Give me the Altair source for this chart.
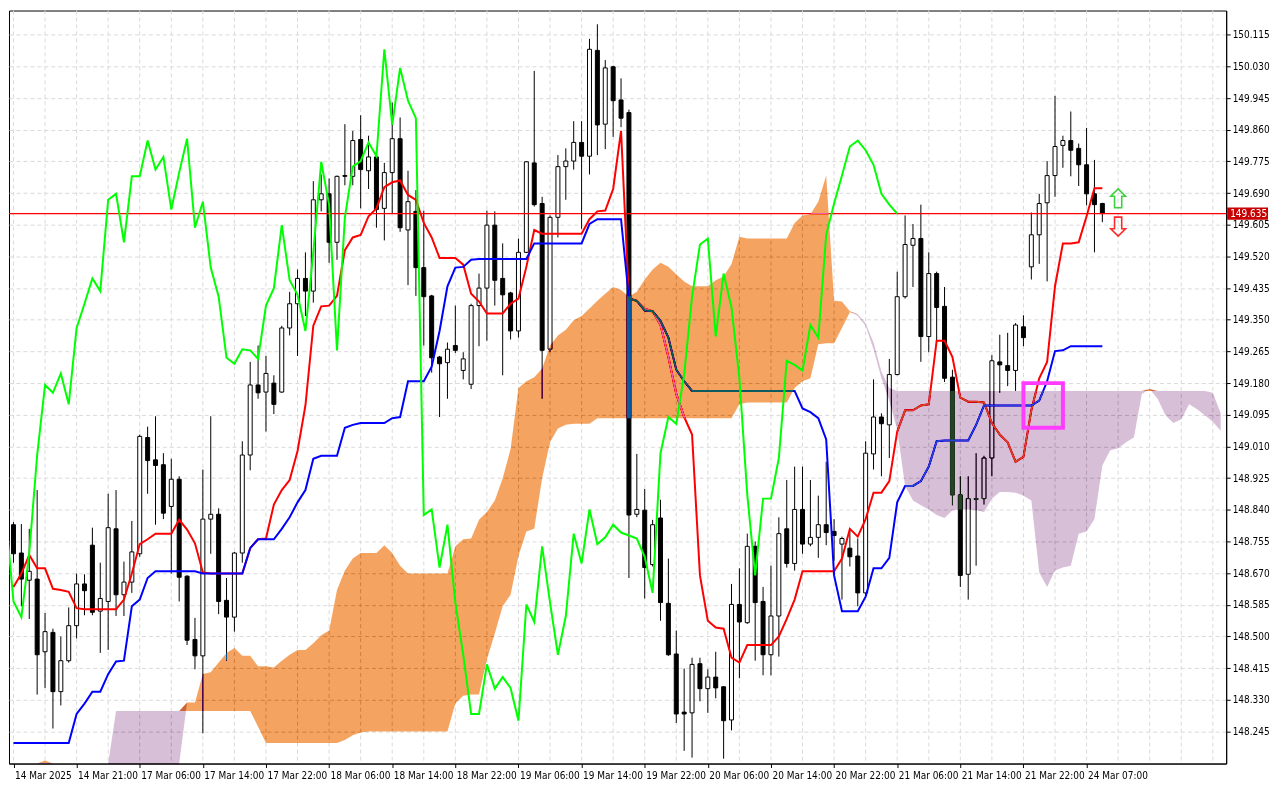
import altair as alt
import pandas as pd

FONT = "Tahoma, 'DejaVu Sans Condensed', 'Liberation Sans', sans-serif"
W, H = 1222, 756

time_labels = ["14 Mar 2025", "14 Mar 21:00", "17 Mar 06:00", "17 Mar 14:00", "17 Mar 22:00",
               "18 Mar 06:00", "18 Mar 14:00", "18 Mar 22:00", "19 Mar 06:00", "19 Mar 14:00",
               "19 Mar 22:00", "20 Mar 06:00", "20 Mar 14:00", "20 Mar 22:00", "21 Mar 06:00",
               "21 Mar 14:00", "21 Mar 22:00", "24 Mar 07:00"]
label_bars = [0, 8, 16, 24, 32, 40, 48, 56, 64, 72, 80, 88, 96, 104, 112, 120, 128, 136]
grid_bars = [0, 4, 8, 12, 16, 20, 24, 28, 32, 36, 40, 44, 48, 52, 56, 60, 64, 68, 72, 76,
             80, 84, 88, 92, 96, 100, 104, 108, 112, 116, 120, 124, 128, 132, 136, 140, 144,
             148, 152]
price_ticks = [148.245, 148.330, 148.415, 148.500, 148.585, 148.670, 148.755, 148.840,
               148.925, 149.010, 149.095, 149.180, 149.265, 149.350, 149.435, 149.520,
               149.605, 149.690, 149.775, 149.860, 149.945, 150.030, 150.115]
last_price = 149.635

open_ = [148.800, 148.724, 148.651, 148.654, 148.459, 148.511, 148.352, 148.435, 148.529, 148.641,
         148.745, 148.568, 148.594, 148.789, 148.612, 148.646, 148.722, 149.034, 148.974, 148.961,
         148.849, 148.922, 148.662, 148.492, 148.448, 148.815, 148.828, 148.597, 148.552, 148.724,
         148.987, 149.175, 149.156, 149.180, 149.156, 149.328, 149.393, 149.461, 149.427, 149.672,
         149.688, 149.558, 149.737, 149.735, 149.834, 149.750, 149.787, 149.649, 149.745, 149.836,
         149.591, 149.641, 149.490, 149.414, 149.250, 149.235, 149.281, 149.214, 149.177, 149.388,
         149.435, 149.604, 149.461, 149.422, 149.320, 149.531, 149.771, 149.662, 149.271, 149.625,
         149.761, 149.776, 149.826, 149.789, 150.073, 149.875, 150.029, 149.940, 149.906, 148.828,
         148.839, 148.693, 148.818, 148.589, 148.453, 148.297, 148.295, 148.427, 148.360, 148.391,
         148.365, 148.276, 148.586, 148.537, 148.742, 148.594, 148.451, 148.555, 148.789, 148.696,
         148.841, 148.748, 148.766, 148.800, 148.782, 148.748, 148.737, 148.716, 148.617, 148.990,
         149.089, 149.068, 149.203, 149.412, 149.550, 149.568, 149.305, 149.474, 149.386, 149.196,
         148.880, 148.667, 148.868, 148.870, 148.979, 149.237, 149.227, 149.214, 149.331, 149.492,
         149.578, 149.664, 149.737, 149.818, 149.831, 149.810, 149.766, 149.688, 149.662]
high = [148.807, 148.802, 148.789, 148.893, 148.563, 148.521, 148.500, 148.578, 148.669, 148.667,
        148.792, 148.698, 148.883, 148.893, 148.701, 148.810, 149.042, 149.063, 149.091, 148.992,
        148.977, 148.930, 148.664, 148.550, 148.948, 149.091, 148.844, 148.657, 148.727, 149.024,
        149.237, 149.281, 149.253, 149.201, 149.334, 149.425, 149.485, 149.531, 149.722, 149.740,
        149.729, 149.737, 149.875, 149.857, 149.899, 149.844, 149.797, 149.771, 149.933, 149.893,
        149.750, 149.698, 149.643, 149.417, 149.253, 149.289, 149.388, 149.263, 149.393, 149.474,
        149.643, 149.641, 149.555, 149.425, 149.568, 149.776, 150.018, 149.680, 149.630, 149.792,
        149.810, 149.883, 149.883, 150.104, 150.143, 150.047, 150.032, 149.998, 149.914, 148.990,
        148.896, 148.813, 148.867, 148.709, 148.516, 148.414, 148.443, 148.443, 148.412, 148.459,
        148.367, 148.641, 148.683, 148.776, 148.755, 148.633, 148.690, 148.820, 148.920, 148.956,
        148.956, 148.920, 148.878, 148.969, 148.815, 148.768, 148.789, 148.763, 149.024, 149.190,
        149.099, 149.245, 149.479, 149.630, 149.607, 149.659, 149.531, 149.479, 149.438, 149.216,
        148.930, 148.930, 148.992, 148.985, 149.255, 149.310, 149.315, 149.341, 149.362, 149.638,
        149.688, 149.776, 149.951, 149.844, 149.909, 149.823, 149.865, 149.779, 149.664]
low = [148.698, 148.581, 148.547, 148.344, 148.362, 148.253, 148.315, 148.430, 148.495, 148.557,
       148.557, 148.456, 148.464, 148.555, 148.555, 148.617, 148.714, 148.883, 148.800, 148.815,
       148.669, 148.594, 148.477, 148.412, 148.240, 148.722, 148.560, 148.435, 148.513, 148.698,
       148.946, 149.138, 149.050, 149.097, 149.154, 149.308, 149.253, 149.360, 149.396, 149.641,
       149.503, 149.511, 149.711, 149.711, 149.649, 149.701, 149.597, 149.563, 149.636, 149.586,
       149.443, 149.414, 149.281, 149.208, 149.089, 149.138, 149.261, 149.190, 149.164, 149.279,
       149.294, 149.388, 149.201, 149.297, 149.302, 149.529, 149.654, 149.138, 149.263, 149.571,
       149.672, 149.753, 149.594, 149.740, 149.792, 149.808, 149.841, 149.867, 148.657, 148.820,
       148.602, 148.688, 148.542, 148.448, 148.268, 148.193, 148.175, 148.326, 148.295, 148.334,
       148.172, 148.248, 148.388, 148.534, 148.435, 148.396, 148.396, 148.446, 148.685, 148.677,
       148.722, 148.742, 148.711, 148.745, 148.703, 148.599, 148.688, 148.581, 148.610, 148.948,
       148.930, 148.979, 149.201, 149.407, 149.438, 149.237, 149.263, 149.289, 149.183, 148.852,
       148.633, 148.599, 148.690, 148.854, 148.930, 149.154, 149.172, 149.159, 149.279, 149.458,
       149.500, 149.453, 149.680, 149.758, 149.735, 149.709, 149.657, 149.531, 149.612]
close = [148.722, 148.654, 148.675, 148.451, 148.513, 148.352, 148.435, 148.529, 148.641, 148.623,
         148.565, 148.602, 148.792, 148.612, 148.646, 148.727, 149.037, 148.972, 148.959, 148.831,
         148.922, 148.659, 148.490, 148.448, 148.815, 148.828, 148.594, 148.552, 148.724, 148.987,
         149.175, 149.154, 149.206, 149.123, 149.328, 149.393, 149.461, 149.427, 149.672, 149.688,
         149.558, 149.735, 149.735, 149.831, 149.753, 149.787, 149.646, 149.745, 149.836, 149.597,
         149.667, 149.490, 149.412, 149.248, 149.232, 149.271, 149.268, 149.245, 149.388, 149.435,
         149.604, 149.456, 149.417, 149.320, 149.531, 149.774, 149.659, 149.268, 149.625, 149.761,
         149.776, 149.826, 149.789, 150.076, 149.873, 150.026, 149.938, 149.891, 148.826, 148.841,
         148.685, 148.800, 148.591, 148.451, 148.292, 148.292, 148.425, 148.360, 148.391, 148.362,
         148.274, 148.586, 148.539, 148.742, 148.591, 148.451, 148.555, 148.776, 148.696, 148.841,
         148.748, 148.766, 148.800, 148.779, 148.771, 148.763, 148.714, 148.617, 148.992, 149.089,
         149.071, 149.203, 149.412, 149.552, 149.568, 149.305, 149.474, 149.383, 149.193, 148.880,
         148.664, 148.870, 148.870, 148.979, 149.240, 149.229, 149.214, 149.336, 149.302, 149.578,
         149.662, 149.737, 149.815, 149.831, 149.805, 149.766, 149.688, 149.659, 149.635]

tenkan = [148.633, 148.669, 148.719, 148.683, 148.683, 148.628, 148.625, 148.620, 148.576, 148.573,
          148.573, 148.573, 148.573, 148.573, 148.599, 148.669, 148.748, 148.761, 148.776, 148.776,
          148.776, 148.813, 148.787, 148.750, 148.672, 148.669, 148.669, 148.669, 148.669, 148.669,
          148.737, 148.761, 148.763, 148.854, 148.893, 148.920, 148.998, 149.120, 149.334, 149.386,
          149.388, 149.414, 149.537, 149.571, 149.578, 149.628, 149.649, 149.706, 149.719, 149.724,
          149.685, 149.672, 149.610, 149.571, 149.516, 149.516, 149.516, 149.498, 149.420, 149.399,
          149.367, 149.367, 149.367, 149.393, 149.407, 149.492, 149.591, 149.581, 149.581, 149.581,
          149.581, 149.581, 149.581, 149.620, 149.641, 149.643, 149.701, 149.857, 149.407, 149.401,
          149.380, 149.373, 149.336, 149.250, 149.151, 149.089, 149.042, 148.664, 148.542, 148.524,
          148.521, 148.443, 148.430, 148.477, 148.477, 148.477, 148.477, 148.500, 148.547, 148.599,
          148.675, 148.675, 148.675, 148.675, 148.675, 148.709, 148.789, 148.768, 148.815, 148.886,
          148.886, 148.917, 149.050, 149.107, 149.107, 149.120, 149.123, 149.294, 149.294, 149.250,
          149.141, 149.130, 149.130, 149.128, 149.073, 149.042, 149.021, 148.969, 148.982, 149.107,
          149.193, 149.237, 149.440, 149.555, 149.555, 149.558, 149.628, 149.703, 149.703]
kijun = [148.214, 148.214, 148.214, 148.214, 148.214, 148.214, 148.214, 148.214, 148.292, 148.320,
         148.352, 148.352, 148.399, 148.433, 148.435, 148.581, 148.599, 148.657, 148.675, 148.675,
         148.675, 148.675, 148.675, 148.675, 148.669, 148.669, 148.669, 148.669, 148.669, 148.669,
         148.737, 148.761, 148.761, 148.761, 148.789, 148.820, 148.860, 148.893, 148.977, 148.985,
         148.985, 148.985, 149.060, 149.068, 149.073, 149.073, 149.073, 149.073, 149.086, 149.089,
         149.185, 149.185, 149.185, 149.224, 149.320, 149.440, 149.490, 149.492, 149.511, 149.513,
         149.513, 149.513, 149.513, 149.513, 149.513, 149.513, 149.555, 149.555, 149.555, 149.555,
         149.555, 149.555, 149.555, 149.607, 149.620, 149.620, 149.620, 149.620, 149.407, 149.401,
         149.375, 149.373, 149.347, 149.302, 149.216, 149.185, 149.159, 149.159, 149.159, 149.159,
         149.159, 149.159, 149.159, 149.159, 149.159, 149.159, 149.159, 149.159, 149.159, 149.159,
         149.112, 149.102, 149.086, 149.029, 148.664, 148.568, 148.568, 148.568, 148.607, 148.683,
         148.683, 148.711, 148.860, 148.904, 148.904, 148.917, 148.956, 149.024, 149.026, 149.026,
         149.026, 149.026, 149.068, 149.120, 149.120, 149.120, 149.120, 149.120, 149.120, 149.120,
         149.133, 149.185, 149.266, 149.268, 149.279, 149.279, 149.279, 149.279, 149.279]
span_a = [148.130, 148.130, 148.130, 148.130, 148.167, 148.130, 148.130, 148.130, 148.130, 148.130,
          148.130, 148.130, 148.130, 148.130, 148.130, 148.130, 148.130, 148.130, 148.130, 148.130,
          148.130, 148.151, 148.323, 148.323, 148.399, 148.404, 148.430, 148.456, 148.469, 148.448,
          148.448, 148.420, 148.420, 148.417, 148.435, 148.451, 148.464, 148.464, 148.482, 148.503,
          148.516, 148.625, 148.677, 148.709, 148.724, 148.724, 148.724, 148.745, 148.724, 148.690,
          148.669, 148.669, 148.669, 148.669, 148.669, 148.669, 148.742, 148.761, 148.763, 148.813,
          148.834, 148.865, 148.925, 149.003, 149.167, 149.185, 149.196, 149.219, 149.281, 149.308,
          149.323, 149.349, 149.360, 149.380, 149.401, 149.420, 149.438, 149.430, 149.412, 149.425,
          149.458, 149.485, 149.503, 149.492, 149.472, 149.453, 149.440, 149.440, 149.440, 149.456,
          149.466, 149.500, 149.573, 149.568, 149.568, 149.568, 149.568, 149.568, 149.568, 149.610,
          149.630, 149.633, 149.667, 149.737, 149.401, 149.399, 149.373, 149.360, 149.334, 149.271,
          149.193, 149.133, 149.055, 148.904, 148.865, 148.852, 148.841, 148.826, 148.818, 148.839,
          148.841, 148.841, 148.839, 148.834, 148.870, 148.888, 148.888, 148.886, 148.878, 148.865,
          148.672, 148.633, 148.677, 148.685, 148.690, 148.776, 148.782, 148.815, 148.959, 149.000,
          149.005, 149.021, 149.034, 149.151, 149.164, 149.138, 149.094, 149.073, 149.083, 149.123,
          149.110, 149.094, 149.076, 149.052]
span_b = [148.104, 148.104, 148.104, 148.104, 148.104, 148.104, 148.104, 148.104, 148.104, 148.104,
          148.104, 148.104, 148.156, 148.300, 148.300, 148.300, 148.300, 148.300, 148.300, 148.300,
          148.300, 148.300, 148.300, 148.300, 148.300, 148.300, 148.300, 148.300, 148.300, 148.300,
          148.300, 148.258, 148.214, 148.214, 148.214, 148.214, 148.214, 148.214, 148.214, 148.214,
          148.214, 148.214, 148.222, 148.235, 148.242, 148.245, 148.245, 148.245, 148.245, 148.245,
          148.245, 148.245, 148.245, 148.245, 148.245, 148.245, 148.320, 148.341, 148.344, 148.344,
          148.438, 148.508, 148.581, 148.612, 148.716, 148.782, 148.789, 148.925, 149.021, 149.058,
          149.068, 149.071, 149.071, 149.071, 149.086, 149.086, 149.086, 149.086, 149.086, 149.086,
          149.086, 149.086, 149.086, 149.086, 149.086, 149.086, 149.086, 149.086, 149.086, 149.086,
          149.086, 149.086, 149.123, 149.128, 149.128, 149.128, 149.128, 149.128, 149.128, 149.167,
          149.185, 149.193, 149.284, 149.287, 149.287, 149.328, 149.370, 149.365, 149.341, 149.289,
          149.211, 149.167, 149.159, 149.159, 149.159, 149.159, 149.159, 149.159, 149.159, 149.159,
          149.159, 149.159, 149.159, 149.159, 149.159, 149.159, 149.159, 149.159, 149.159, 149.159,
          149.159, 149.159, 149.159, 149.159, 149.159, 149.159, 149.159, 149.159, 149.159, 149.159,
          149.159, 149.159, 149.159, 149.159, 149.159, 149.159, 149.159, 149.159, 149.159, 149.159,
          149.159, 149.159, 149.154, 149.099]

# annotation objects
box_bars = [128, 133]
box_prices = [149.060, 149.180]
arrow_bar = 140
arrow_up_price = 149.676
arrow_down_price = 149.600

candles = pd.DataFrame({"k": list(range(len(close))), "open": open_, "high": high,
                        "low": low, "close": close})
ind = pd.DataFrame({"k": list(range(len(tenkan))), "tenkan": tenkan, "kijun": kijun})
cloud_df = pd.DataFrame({"k": list(range(len(span_a))), "a": span_a, "b": span_b})

xs = alt.Scale(domain=[0.0625, 153.0625], nice=False, zero=False)
ys = alt.Scale(domain=[148.159, 150.180], nice=False, zero=False, clamp=True)

label_expr = "[" + ",".join("'%s'" % s for s in time_labels) + "][round(datum.value/8)]"
xaxis = alt.Axis(values=label_bars, labelExpr=label_expr, labelAlign="left", labelPadding=3,
                 labelOffset=1, tickSize=4, grid=False, domainColor="black", tickColor="black",
                 labelColor="black", labelFont=FONT, labelFontSize=10, labelOverlap=False,
                 labelFlush=False, title=None)
yaxis = alt.Axis(orient="right", values=price_ticks, format=".3f", tickSize=4, grid=True,
                 gridColor="#dadada", gridDash=[4, 3], domainColor="black", tickColor="black",
                 labelColor="black", labelFont=FONT, labelFontSize=10, labelPadding=2,
                 labelOverlap=False, labelFlush=False, title=None)


def X(f):
    return alt.X(f + ":Q", scale=xs, axis=xaxis, title=None)


def Y(f):
    return alt.Y(f + ":Q", scale=ys, axis=yaxis, title=None)


grid_v = alt.Chart(pd.DataFrame({"k": grid_bars})).mark_rule(
    color="#dadada", strokeDash=[4, 3], strokeWidth=1).encode(x=X("k"))

wicks = alt.Chart(candles).mark_rule(color="black", strokeWidth=1, clip=True).encode(
    x=X("k"), y=Y("low"), y2="high")
bodies = alt.Chart(candles).mark_bar(size=4, stroke="black", strokeWidth=1, clip=True).encode(
    x=X("k"), y=Y("open"), y2="close",
    fill=alt.condition("datum.close < datum.open", alt.value("black"), alt.value("white")))

tenkan_line = alt.Chart(ind).mark_line(color="#ff0000", strokeWidth=2, clip=True).encode(
    x=X("k"), y=Y("tenkan"))
kijun_line = alt.Chart(ind).mark_line(color="#0000ff", strokeWidth=2, clip=True).encode(
    x=X("k"), y=Y("kijun"))

price_df = pd.DataFrame({"p": [last_price], "label": ["%.3f" % last_price]})
price_line = alt.Chart(price_df).mark_rule(color="#ff0000", strokeWidth=1.2).encode(y=Y("p"))

cloud = alt.Chart(cloud_df).transform_calculate(top="max(datum.a, datum.b)")
orange = cloud.mark_area(color="#0b5b9f", blend="difference", opacity=1).encode(
    x=X("k"), y=Y("top"), y2="b")
purple = cloud.mark_area(color="#274027", blend="difference", opacity=1).encode(
    x=X("k"), y=Y("top"), y2="a")

chikou = alt.Chart(candles).transform_calculate(ck="datum.k - 26").mark_line(
    color="#00ff00", strokeWidth=2, clip=True).encode(x=X("ck"), y=Y("close"))

box_df = pd.DataFrame({"k1": [box_bars[0]], "k2": [box_bars[1]],
                       "p1": [box_prices[0]], "p2": [box_prices[1]]})
box = alt.Chart(box_df).mark_rect(fillOpacity=0, stroke="#ff3cff", strokeWidth=4).encode(
    x=X("k1"), x2="k2", y=Y("p1"), y2="p2")

up_shape = "M0,-1L0.78,-0.22L0.38,-0.22L0.38,1L-0.38,1L-0.38,-0.22L-0.78,-0.22Z"
down_shape = "M0,1L0.78,0.22L0.38,0.22L0.38,-1L-0.38,-1L-0.38,0.22L-0.78,0.22Z"
up_arrow = alt.Chart(pd.DataFrame({"k": [arrow_bar], "p": [arrow_up_price]})).mark_point(
    shape=up_shape, size=361, filled=False, stroke="#3fd03f", strokeWidth=1.6, opacity=1).encode(
    x=X("k"), y=Y("p"))
down_arrow = alt.Chart(pd.DataFrame({"k": [arrow_bar], "p": [arrow_down_price]})).mark_point(
    shape=down_shape, size=361, filled=False, stroke="#ff2a2a", strokeWidth=1.6, opacity=1).encode(
    x=X("k"), y=Y("p"))

label_box = alt.Chart(price_df).transform_calculate(
    hi="datum.p + 0.0165", lo="datum.p - 0.0165").mark_rect(color="#c80000").encode(
    x=alt.value(W + 1), x2=alt.value(W + 42), y=Y("hi"), y2="lo")
label_text = alt.Chart(price_df).mark_text(align="left", baseline="middle", color="white",
                                           font=FONT, fontSize=10).encode(
    x=alt.value(W + 4), y=Y("p"), text="label:N")

chart = alt.layer(grid_v, wicks, bodies, tenkan_line, kijun_line, price_line, orange, purple,
                  chikou, box, up_arrow, down_arrow, label_box, label_text).properties(
    width=W, height=H, background="white",
    padding={"left": 0, "top": 0, "right": 2, "bottom": 0}
).configure_view(stroke="black", strokeWidth=1)

chart.save("out.html", embed_options={"renderer": "svg", "actions": False})
